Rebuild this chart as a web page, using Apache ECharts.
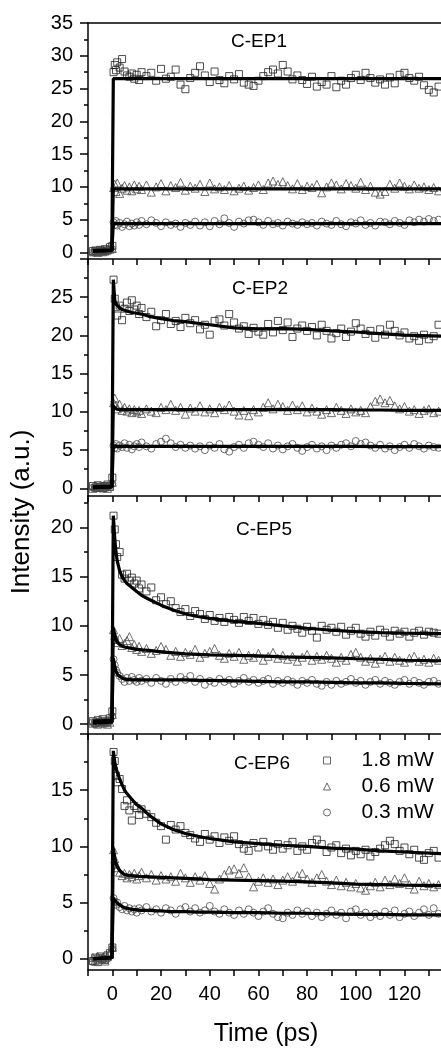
<!DOCTYPE html>
<html><head><meta charset="utf-8">
<script src="https://cdn.jsdelivr.net/npm/echarts@6/dist/echarts.min.js"></script>
<style>html,body{margin:0;padding:0;background:#fff}#c{width:441px;height:1049px}</style>
</head><body><div id="c"></div>
<script>
// ---- sampling times of the measured points (ps) ----
const T = [
-8,-7,-6,-5,-4,-3,-2,-1,
0,0.5,1,1.5,
2,3,4,5,6,7,8,9,10,11,
12,14,16,18,20,22,24,26,28,30,
32,34,36,38,40,42,44,46,48,50,
52,54,56,58,60,62,64,66,68,70,
72,74,76,78,80,82,84,86,88,90,
92,94,96,98,100,102,104,106,108,110,
112,114,116,118,120,122,124,126,128,130,
132,134];

// ---- C-EP1 ----
const ep1_18 = [
0.2,0.3,0.1,0.4,0.2,0.5,0.3,0.8,
1.0,27.5,28.6,27.8,
29.0,28.2,29.5,27.6,27.0,26.8,27.3,26.5,27.1,26.3,
27.5,26.9,27.4,26.2,28.0,26.5,26.8,27.9,25.6,24.9,
26.6,27.4,28.4,27.0,26.0,27.6,26.3,25.8,26.9,26.4,
27.2,25.9,25.6,25.4,26.2,26.9,27.5,27.9,27.3,28.6,
27.6,26.4,27.0,26.3,25.7,26.8,25.3,26.0,25.6,26.9,
25.2,26.2,25.6,26.6,27.1,26.3,27.4,26.6,25.9,26.4,
25.6,26.7,25.8,27.1,27.4,26.6,26.2,26.8,25.5,24.8,
24.4,25.3];
const ep1_06 = [
0.1,0.2,0.0,0.3,0.1,0.2,0.4,0.5,
0.6,9.9,10.4,9.3,
10.6,9.0,9.8,10.2,9.5,10.0,9.4,10.3,9.7,10.1,
9.6,10.3,9.2,10.0,10.5,9.4,10.2,9.9,10.7,9.5,
10.1,9.8,10.4,9.3,10.6,9.7,10.0,9.6,10.2,9.4,
9.8,10.1,9.5,9.9,10.3,9.6,10.6,10.9,10.4,10.8,
10.2,9.7,10.5,9.6,10.1,9.9,10.4,9.1,10.0,10.6,
10.3,9.7,10.5,10.2,9.8,10.7,9.6,10.1,9.2,8.9,
9.3,10.4,9.8,10.6,10.1,9.7,10.3,9.8,10.0,9.6,
9.9,9.4];
const ep1_03 = [
0.0,0.2,0.1,0.3,0.1,0.2,0.3,0.4,
0.5,4.6,4.2,4.8,
4.1,4.5,3.9,4.3,4.7,4.0,4.4,4.1,4.6,4.2,
4.8,4.3,4.9,4.5,4.0,4.6,4.2,4.4,3.9,4.5,
4.2,4.7,4.1,4.6,4.0,4.8,4.3,5.2,4.5,3.9,
4.7,4.4,4.9,5.0,4.6,4.2,4.8,4.3,4.5,4.1,
4.7,4.4,4.2,4.6,4.3,4.5,4.1,4.7,4.4,4.2,
4.8,4.3,4.0,4.6,4.4,4.9,4.2,4.5,4.1,4.7,
4.6,4.3,4.8,4.5,4.2,4.9,4.6,5.0,4.7,5.1,
4.8,5.0];

// ---- C-EP2 ----
const ep2_18 = [
0.3,0.1,0.4,0.2,0.0,0.3,0.5,0.2,
1.4,27.3,24.8,23.7,
22.6,23.9,22.0,23.5,24.3,23.2,24.6,23.4,23.9,22.8,
23.6,22.4,23.1,21.2,22.0,22.8,21.5,21.9,21.1,22.3,
21.6,22.0,20.8,21.4,20.1,21.9,22.1,21.3,22.8,21.7,
20.9,21.2,20.2,21.0,20.5,20.1,21.5,20.4,21.9,20.7,
21.7,19.8,20.9,21.3,20.6,21.1,20.0,21.4,20.6,19.6,
20.3,20.9,19.8,20.5,21.6,20.9,20.2,20.6,19.7,20.8,
20.1,21.4,20.6,20.0,20.4,19.6,19.9,19.3,20.1,19.5,
19.9,21.4];
const ep2_06 = [
0.0,0.2,0.1,0.3,0.1,0.2,0.0,0.3,
0.8,11.2,11.8,10.9,
10.4,11.0,10.2,10.6,10.1,10.4,9.9,10.3,10.0,10.2,
9.8,10.4,10.1,9.9,10.6,10.3,11.0,10.2,10.6,9.7,
10.5,10.1,10.8,10.0,10.4,9.9,10.6,10.3,10.9,10.1,
9.6,10.2,9.5,10.3,10.0,10.6,11.2,10.4,11.0,10.7,
10.2,10.9,10.3,10.8,10.0,10.5,10.1,9.7,10.3,9.9,
10.6,10.2,9.8,10.4,10.0,10.2,9.9,10.7,11.4,11.7,
11.2,11.5,10.8,10.4,10.7,10.1,10.3,9.8,10.2,10.4,
9.9,10.1];
const ep2_03 = [
0.1,0.0,0.2,0.1,0.3,0.0,0.2,0.4,
0.6,5.6,5.3,5.8,
5.2,5.6,5.4,5.9,5.3,5.7,5.1,5.5,5.8,5.4,
6.0,5.5,5.2,5.8,6.1,6.5,5.9,5.4,5.7,5.3,
5.6,5.2,5.5,5.0,5.6,5.3,5.8,5.1,4.8,5.4,
5.7,5.3,5.9,6.1,5.7,5.4,5.9,5.2,5.6,5.1,
5.5,5.8,5.3,4.9,5.4,5.7,5.2,5.5,5.0,5.6,
5.3,5.7,5.9,5.5,6.2,5.8,6.0,5.6,5.3,5.7,
5.2,5.5,5.0,5.4,5.7,5.3,5.8,5.5,5.2,5.6,
5.4,5.3];

// ---- C-EP5 ----
const ep5_18 = [
0.3,0.1,0.4,0.2,0.5,0.3,0.2,0.6,
1.3,21.2,19.8,18.3,
17.0,17.5,15.2,14.8,15.3,14.6,14.9,14.3,14.6,13.8,
14.2,13.5,13.9,12.6,12.9,12.2,12.5,11.8,11.4,11.7,
11.0,11.5,11.2,10.7,11.1,10.5,10.8,10.4,10.9,10.6,
10.3,10.9,10.5,10.8,10.2,10.6,10.1,10.4,9.8,10.3,
9.6,10.0,9.7,9.3,9.9,9.5,8.8,10.0,9.6,9.8,
9.4,9.9,9.1,9.5,9.8,9.2,8.9,9.4,9.0,9.6,
9.3,8.9,9.5,9.2,9.4,8.9,9.3,9.5,9.1,9.4,
9.3,9.2];
const ep5_06 = [
0.1,0.2,0.0,0.3,0.1,0.2,0.0,0.2,
1.0,9.6,9.0,8.6,
8.3,8.7,8.0,8.2,8.5,8.9,7.8,8.1,7.6,7.9,
7.4,7.7,7.2,7.5,7.9,7.6,7.0,7.4,6.9,7.3,
7.1,7.6,6.8,7.2,7.4,7.7,7.0,6.7,7.2,6.9,
7.3,6.6,7.0,6.8,7.2,6.5,6.9,7.3,6.7,7.0,
6.6,6.9,6.4,6.8,7.1,6.5,6.9,6.6,7.0,6.7,
6.3,6.8,6.5,7.1,7.3,6.8,6.4,6.7,6.2,6.6,
6.9,6.4,6.8,6.5,6.3,6.7,6.9,6.4,6.6,6.3,
6.7,6.5];
const ep5_03 = [
0.2,0.0,0.1,0.3,0.1,0.2,0.4,0.3,
0.8,6.6,6.0,5.5,
5.2,4.9,4.6,4.3,4.7,4.4,4.8,4.5,4.3,4.7,
4.4,4.6,4.2,4.7,4.4,4.1,4.6,4.3,4.8,4.5,
4.9,4.3,4.6,4.0,4.4,4.2,4.6,4.3,4.5,4.1,
4.4,4.7,4.3,4.5,4.2,4.4,4.6,4.1,4.4,4.2,
4.5,4.3,4.0,4.4,4.2,4.5,4.1,3.9,4.3,4.0,
4.4,4.1,4.3,4.6,4.2,4.4,4.0,4.3,4.5,4.1,
4.4,4.2,4.0,4.3,4.5,4.1,4.4,4.2,4.0,4.3,
4.4,4.1];

// ---- C-EP6 ----
const ep6_18 = [
-0.2,0.1,-0.3,0.2,0.0,-0.1,0.3,0.5,
1.0,18.4,17.6,16.3,
15.7,16.0,15.1,13.6,14.1,13.2,12.3,13.6,13.4,12.8,
13.3,12.9,12.6,12.1,11.8,10.6,11.9,11.5,11.8,11.2,
11.0,10.7,10.4,11.1,10.6,10.9,10.3,10.8,10.5,10.9,
10.2,9.8,9.6,10.3,9.9,10.4,10.0,9.7,10.2,9.8,
10.1,10.4,9.6,10.0,9.7,10.3,10.6,10.2,9.5,9.9,
10.1,9.4,9.8,9.2,9.6,9.3,9.7,9.1,9.5,9.8,
10.1,10.5,10.2,9.6,9.9,9.3,9.7,9.0,8.8,9.4,
9.6,9.0];
const ep6_06 = [
0.1,-0.1,0.2,0.0,0.1,-0.2,0.2,0.4,
1.0,9.7,8.9,8.4,
8.1,7.7,7.4,7.6,7.2,7.5,7.3,7.6,7.1,7.4,
7.7,7.2,7.5,7.0,7.4,7.1,7.3,6.9,7.6,7.2,
6.8,7.3,7.0,7.4,6.7,6.2,7.1,7.5,7.9,8.0,
7.6,8.1,7.3,6.4,6.9,7.2,6.8,7.1,6.6,7.0,
7.3,6.9,7.4,7.6,7.1,6.8,7.2,7.5,6.9,6.6,
7.0,6.5,6.8,6.4,6.7,6.3,6.1,6.5,6.8,6.4,
7.0,6.6,7.1,6.7,7.2,6.6,6.2,6.9,6.5,6.7,
6.4,6.6];
const ep6_03 = [
-0.3,0.0,-0.2,0.1,-0.1,0.2,0.0,0.3,
0.9,5.4,5.1,4.8,
5.0,4.6,4.4,4.7,4.3,4.5,4.2,4.4,4.1,4.5,
4.3,4.6,4.2,4.4,4.1,4.5,4.3,4.0,4.4,4.6,
4.2,4.5,4.1,4.3,4.7,4.2,4.0,4.4,4.1,3.9,
4.3,4.0,4.4,4.1,3.8,4.2,4.5,4.0,3.7,3.6,
4.1,3.9,4.3,4.0,4.2,3.8,4.1,3.7,4.0,4.3,
3.9,4.1,3.6,4.2,4.4,3.9,4.1,3.7,4.0,3.8,
4.2,3.9,4.3,3.7,4.0,4.2,3.8,4.1,4.4,3.9,
4.5,4.0];

// ---- fitted curves, read at these times ----
const FT = [-8,-0.2,0.4,
1,1.5,2,3,4,5,6,8,10,12,
15,20,25,30,35,40,50,60,70,80,
90,100,110,120,135];
const fit1_18 = [0.3,0.4,26.5, 26.5,26.5,26.5,26.5,26.5,26.5,26.5,26.5,26.5,26.5, 26.5,26.5,26.5,26.5,26.5,26.5,26.5,26.5,26.5,26.5, 26.5,26.5,26.5,26.5,26.5];
const fit1_06 = [0.2,0.3,9.7, 9.7,9.7,9.7,9.7,9.7,9.7,9.7,9.7,9.7,9.7, 9.7,9.7,9.7,9.7,9.7,9.7,9.7,9.7,9.7,9.7, 9.7,9.7,9.7,9.7,9.7];
const fit1_03 = [0.2,0.3,4.4, 4.4,4.4,4.4,4.4,4.4,4.4,4.4,4.4,4.4,4.4, 4.4,4.4,4.4,4.4,4.4,4.4,4.4,4.4,4.4,4.4, 4.4,4.4,4.4,4.4,4.4];
const fit2_18 = [0.2,0.3,27.3, 24.6,24.1,23.9,23.6,23.4,23.3,23.2,23.0,22.9,22.8, 22.5,22.2,21.95,21.8,21.6,21.4,21.0,20.85,20.9,20.8, 20.6,20.45,20.25,20.05,19.9];
const fit2_06 = [0.1,0.2,10.8, 10.5,10.4,10.35,10.3,10.3,10.3,10.3,10.3,10.3,10.3, 10.3,10.3,10.3,10.3,10.3,10.3,10.3,10.3,10.3,10.3, 10.3,10.25,10.25,10.2,10.2];
const fit2_03 = [0.1,0.2,5.6, 5.5,5.5,5.5,5.5,5.5,5.5,5.5,5.5,5.5,5.5, 5.5,5.5,5.5,5.5,5.5,5.5,5.5,5.5,5.5,5.5, 5.5,5.5,5.45,5.45,5.45];
const fit5_18 = [0.3,0.4,21.2, 18.8,17.5,16.6,15.6,15.0,14.6,14.3,13.9,13.5,13.1, 12.7,12.1,11.6,11.2,10.95,10.75,10.45,10.25,10.0,9.75, 9.55,9.4,9.3,9.25,9.2];
const fit5_06 = [0.1,0.2,9.8, 9.0,8.6,8.35,8.1,7.95,7.85,7.8,7.7,7.6,7.55, 7.5,7.35,7.25,7.15,7.1,7.05,7.0,6.95,6.85,6.8, 6.75,6.65,6.6,6.5,6.45];
const fit5_03 = [0.2,0.3,6.7, 5.9,5.4,5.1,4.85,4.7,4.6,4.55,4.5,4.5,4.5, 4.5,4.5,4.5,4.5,4.45,4.45,4.4,4.35,4.3,4.3, 4.25,4.2,4.2,4.15,4.1];
const fit6_18 = [0.0,0.1,18.5, 17.5,17.0,16.6,16.0,15.5,15.0,14.7,14.2,13.7,13.4, 12.8,12.0,11.5,11.15,10.9,10.7,10.4,10.25,10.1,10.0, 9.85,9.75,9.6,9.5,9.35];
const fit6_06 = [0.0,0.1,9.8, 9.0,8.5,8.2,7.85,7.65,7.5,7.45,7.4,7.35,7.3, 7.3,7.25,7.2,7.15,7.1,7.05,7.0,6.95,6.9,6.85, 6.75,6.65,6.6,6.55,6.5];
const fit6_03 = [0.0,0.1,5.4, 5.2,5.05,4.95,4.8,4.65,4.55,4.5,4.4,4.35,4.3, 4.3,4.25,4.2,4.2,4.15,4.15,4.1,4.1,4.05,4.05, 4.0,3.95,3.95,3.9,3.9];

// ---- labels / ticks ----
const panelNames = ['C-EP1','C-EP2','C-EP5','C-EP6'];
const powerNames = ['1.8 mW','0.6 mW','0.3 mW'];
const xTicks = [-10,0,10,20,30,40,50,60,70,80,90,100,110,120,130];
const xLabels = [0,20,40,60,80,100,120];
const yMin = [-1,-1,-1,-1];
const yMax = [35,30,23.2,20];
const yMajor = [[0,5,10,15,20,25,30,35],[0,5,10,15,20,25,30],[0,5,10,15,20],[0,5,10,15,20]];
const yLabels = [[0,5,10,15,20,25,30,35],[0,5,10,15,20,25],[0,5,10,15,20],[0,5,10,15]];
const yMinor = [[2.5,7.5,12.5,17.5,22.5,27.5,32.5],[2.5,7.5,12.5,17.5,22.5,27.5],[2.5,7.5,12.5,17.5,22.5],[2.5,7.5,12.5,17.5]];

const pts = [[ep1_18,ep1_06,ep1_03],[ep2_18,ep2_06,ep2_03],[ep5_18,ep5_06,ep5_03],[ep6_18,ep6_06,ep6_03]];
const fits = [[fit1_18,fit1_06,fit1_03],[fit2_18,fit2_06,fit2_03],[fit5_18,fit5_06,fit5_03],[fit6_18,fit6_06,fit6_03]];

const FONT = '"Liberation Sans", Arial, Helvetica, sans-serif';
const gridTops = [23,259,496,734];
const gridHeights = [236,237,238,236];
const symbols = ['rect','triangle','circle'];
const symSizes = [7,8,7];
const symColors = ['#222','#4a4a4a','#4a4a4a'];

const grids = gridTops.map((t,i)=>({left:88, right:0, top:t, height:gridHeights[i], outerBoundsMode:'none', containLabel:false}));

const xAxes = [0,1,2,3].map(g=>({
  type:'value', gridIndex:g, min:-10, max:135,
  axisLine:{show:true, onZero:false, lineStyle:{color:'#000', width:1.5}},
  axisTick:{show:true, customValues:xTicks, length:6, lineStyle:{color:'#000', width:1.5}},
  axisLabel:{show:g===3, customValues:xLabels, fontSize:20, fontFamily:FONT, color:'#000', margin:14},
  splitLine:{show:false}
}));
xAxes.push({type:'value', gridIndex:0, position:'top', min:-10, max:135,
  axisLine:{show:true, onZero:false, lineStyle:{color:'#000', width:1.5}},
  axisTick:{show:false}, axisLabel:{show:false}, splitLine:{show:false}});

const yAxes = [];
[0,1,2,3].forEach(g=>{
  yAxes.push({type:'value', gridIndex:g, min:yMin[g], max:yMax[g], position:'left',
    axisLine:{show:true, onZero:false, lineStyle:{color:'#000', width:1.5}},
    axisTick:{show:true, customValues:yMajor[g], length:8, lineStyle:{color:'#000', width:1.5}},
    axisLabel:{show:true, customValues:yLabels[g], fontSize:20, fontFamily:FONT, color:'#000', margin:15},
    splitLine:{show:false}});
  yAxes.push({type:'value', gridIndex:g, min:yMin[g], max:yMax[g], position:'left', offset:0,
    axisLine:{show:false, onZero:false},
    axisTick:{show:true, customValues:yMinor[g], length:4, lineStyle:{color:'#000', width:1.5}},
    axisLabel:{show:false}, splitLine:{show:false}});
});

const series = [];
[0,1,2,3].forEach(g=>{
  [0,1,2].forEach(k=>{
    series.push({type:'scatter', name:powerNames[k], xAxisIndex:g, yAxisIndex:2*g,
      symbol:symbols[k], symbolSize:symSizes[k],
      itemStyle:{color:'rgba(255,255,255,0)', borderColor:symColors[k], borderWidth:1},
      data:T.map((t,i)=>[t, pts[g][k][i]]), z:2, silent:true});
  });
});
[0,1,2,3].forEach(g=>{
  [0,1,2].forEach(k=>{
    series.push({type:'line', name:'fit', xAxisIndex:g, yAxisIndex:2*g, showSymbol:false, symbol:'none',
      lineStyle:{color:'#000', width:3.2}, data:FT.map((t,i)=>[t, fits[g][k][i]]), z:3, silent:true});
  });
});

const labelPos = [[259,42],[260,289],[264,530],[262,764]];
const graphic = panelNames.map((n,i)=>({type:'text', x:labelPos[i][0], y:labelPos[i][1],
  style:{text:n, font:'19px '+FONT, fill:'#000', textAlign:'center', textVerticalAlign:'middle'}}));
graphic.push({type:'text', x:22, y:512, rotation:Math.PI/2,
  style:{text:'Intensity (a.u.)', font:'26px '+FONT, fill:'#000', textAlign:'center', textVerticalAlign:'middle'}});
graphic.push({type:'text', x:266, y:1034,
  style:{text:'Time (ps)', font:'25px '+FONT, fill:'#000', textAlign:'center', textVerticalAlign:'middle'}});

const chart = echarts.init(document.getElementById('c'));
chart.setOption({
  animation:false,
  backgroundColor:'#fff',
  grid:grids, xAxis:xAxes, yAxis:yAxes, series:series, graphic:graphic,
  legend:{
    data:[{name:'1.8 mW', icon:'rect'},{name:'0.6 mW', icon:'triangle'},{name:'0.3 mW', icon:'circle'}],
    orient:'vertical', left:318, top:745, itemWidth:7, itemHeight:7, itemGap:5, selectedMode:false,
    itemStyle:{color:'rgba(255,255,255,0)', borderColor:'#444', borderWidth:1},
    textStyle:{fontSize:21, fontFamily:FONT, color:'#000', padding:[0,0,0,26]}
  }
});
</script>
</body></html>
